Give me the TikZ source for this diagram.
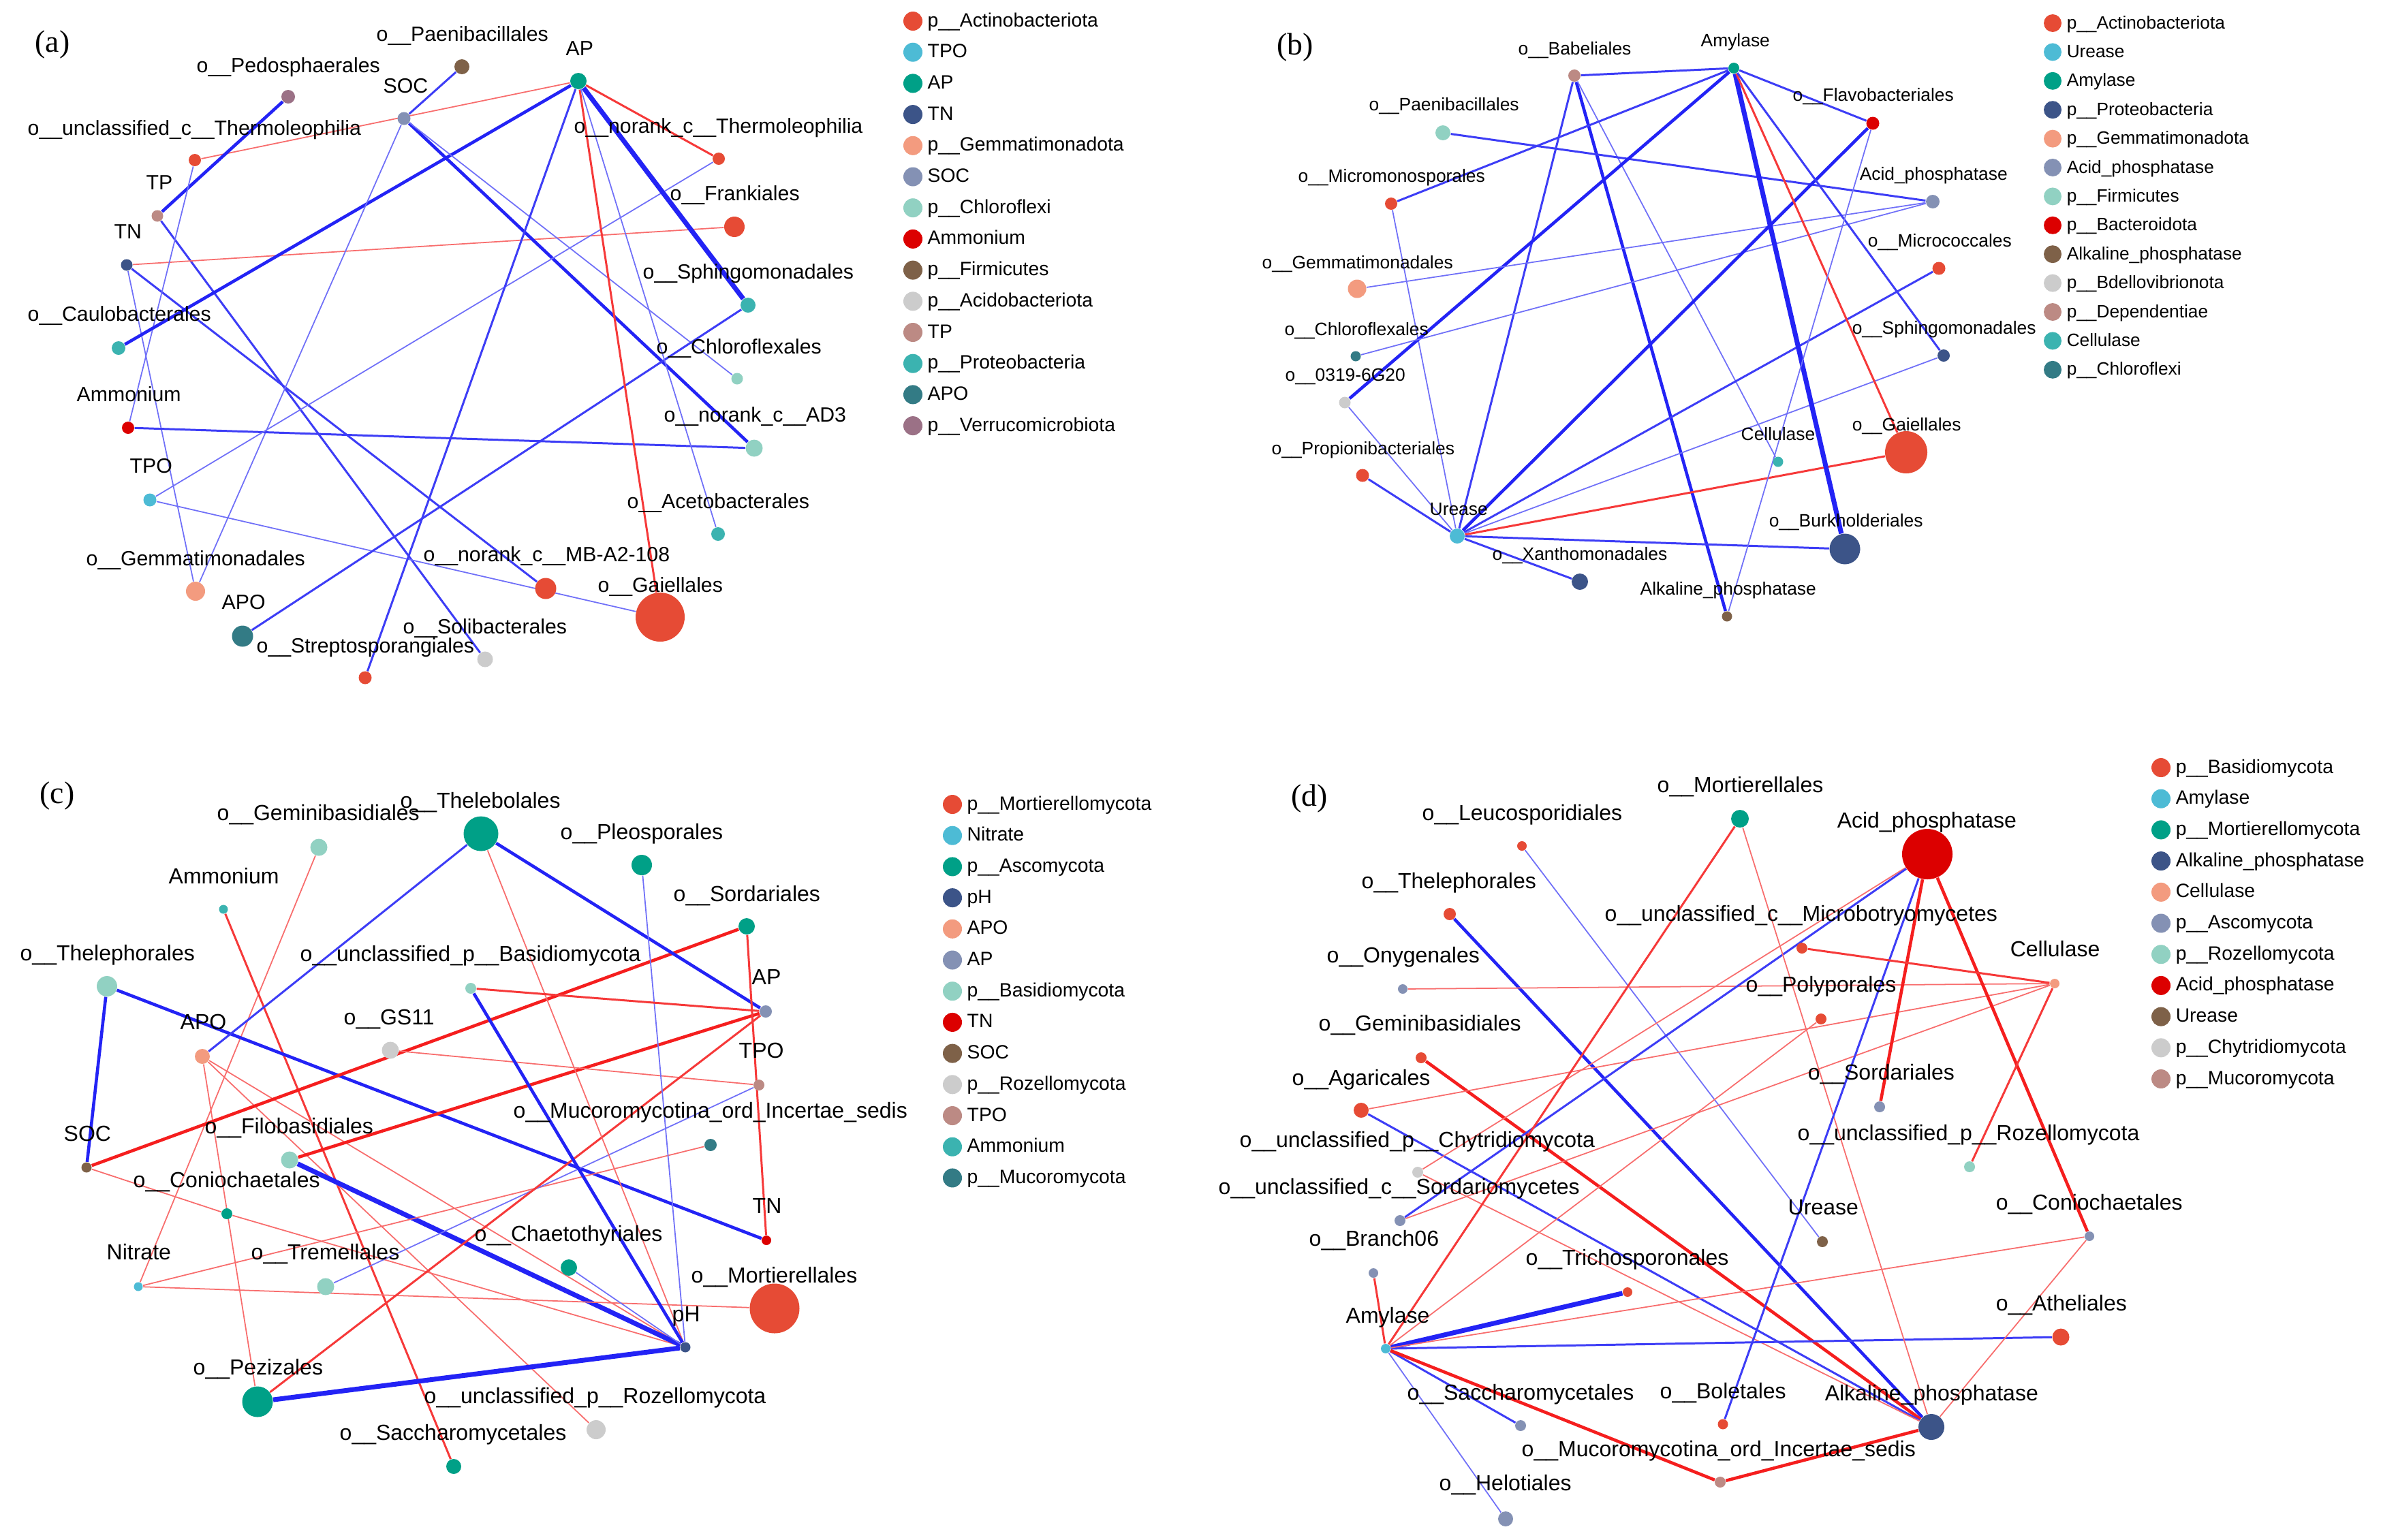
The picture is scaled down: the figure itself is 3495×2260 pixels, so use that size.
\documentclass[tikz,border=0pt]{standalone}
\usepackage{fontspec}
\setmainfont{Liberation Serif}
\newfontfamily\arialf{Liberation Sans}
\newcommand\fLa{\arialf\fontsize{8.6}{10}\selectfont}
\newcommand\fLb{\arialf\fontsize{7.5}{9}\selectfont}
\newcommand\fLc{\arialf\fontsize{9.1}{11}\selectfont}
\newcommand\fGa{\arialf\fontsize{8.05}{9.5}\selectfont}
\newcommand\fGb{\arialf\fontsize{7.47}{9}\selectfont}
\newcommand\fPan{\fontsize{13}{15}\selectfont}
\definecolor{cRed}{HTML}{E64B35}
\definecolor{cSky}{HTML}{4DBBD5}
\definecolor{cGreen}{HTML}{00A087}
\definecolor{cNavy}{HTML}{3C5488}
\definecolor{cSalmon}{HTML}{F39B7F}
\definecolor{cLav}{HTML}{8491B4}
\definecolor{cMint}{HTML}{91D1C2}
\definecolor{cCrim}{HTML}{DC0000}
\definecolor{cBrown}{HTML}{7E6148}
\definecolor{cGrey}{HTML}{CCCCCC}
\definecolor{cRose}{HTML}{BC8A84}
\definecolor{cTeal}{HTML}{3BB3B0}
\definecolor{cDTeal}{HTML}{337B85}
\definecolor{cMauve}{HTML}{9B7186}
\definecolor{eblue}{RGB}{35,35,245}
\definecolor{ered}{RGB}{245,30,30}
\pgfdeclarelayer{bg}
\pgfdeclarelayer{edges}
\pgfsetlayers{bg,edges,main}
\begin{document}
\begin{tikzpicture}[x=0.01cm,y=-0.01cm,
  nd/.style={circle,inner sep=0pt,draw=none,fill=#1},
  sz/.style={minimum size=#1*0.01cm},
  la/.style={anchor=mid west,inner sep=0pt,font=\fLa},
  lb/.style={anchor=mid west,inner sep=0pt,font=\fLb},
  lc/.style={anchor=mid west,inner sep=0pt,font=\fLc},
  pan/.style={inner sep=0pt,font=\fPan},
  eb1/.style={draw=eblue!65,line width=0.5pt},
  eb2/.style={draw=eblue!88,line width=0.85pt},
  eb3/.style={draw=eblue,line width=1.3pt},
  eb4/.style={draw=eblue,line width=2pt},
  er1/.style={draw=ered!65,line width=0.5pt},
  er2/.style={draw=ered!88,line width=0.85pt},
  er3/.style={draw=ered,line width=1.3pt},
  er4/.style={draw=ered,line width=2pt}]
\useasboundingbox (0,0) rectangle (3495,2260);
\begin{pgfonlayer}{bg}
\fill[white] (0,0) rectangle (3495,2260);
\end{pgfonlayer}

% ===================== panel (a) =====================
\node[pan] (pa) at (77,66) {(a)};
\node[nd=cBrown,sz=22] (a-pae) at (678,98) {};
\node[nd=cMauve,sz=20] (a-ped) at (423,142) {};
\node[nd=cLav,sz=19] (a-soc) at (593,174) {};
\node[nd=cGreen,sz=24] (a-ap) at (849,119) {};
\node[nd=cRed,sz=18] (a-uth) at (286,235) {};
\node[nd=cRed,sz=18] (a-nth) at (1055,233) {};
\node[nd=cRose,sz=17] (a-tp) at (231,317) {};
\node[nd=cNavy,sz=17] (a-tn) at (186,389) {};
\node[nd=cRed,sz=30] (a-fra) at (1078,333) {};
\node[nd=cTeal,sz=22] (a-sph) at (1098,448) {};
\node[nd=cTeal,sz=20] (a-cau) at (174,511) {};
\node[nd=cMint,sz=17] (a-chl) at (1082,556) {};
\node[nd=cCrim,sz=18] (a-amm) at (188,628) {};
\node[nd=cMint,sz=25] (a-ad3) at (1107,658) {};
\node[nd=cSky,sz=19] (a-tpo) at (220,734) {};
\node[nd=cTeal,sz=20] (a-ace) at (1054,784) {};
\node[nd=cRed,sz=31] (a-mb) at (801,864) {};
\node[nd=cSalmon,sz=28] (a-gem) at (287,868) {};
\node[nd=cRed,sz=72] (a-gai) at (969,906) {};
\node[nd=cDTeal,sz=31] (a-apo) at (356,934) {};
\node[nd=cGrey,sz=23] (a-sol) at (712,968) {};
\node[nd=cRed,sz=19] (a-str) at (536,995) {};

\node[la] (a-pae-l) at (552,52) {o\_\_Paenibacillales};
\node[la] (a-ped-l) at (288,98) {o\_\_Pedosphaerales};
\node[la] (a-soc-l) at (562,128) {SOC};
\node[la] (a-ap-l) at (830,73) {AP};
\node[la] (a-uth-l) at (40,190) {o\_\_unclassified\_c\_\_Thermoleophilia};
\node[la] (a-nth-l) at (842,187) {o\_\_norank\_c\_\_Thermoleophilia};
\node[la] (a-tp-l) at (214,270) {TP};
\node[la] (a-fra-l) at (983,286) {o\_\_Frankiales};
\node[la] (a-tn-l) at (167,342) {TN};
\node[la] (a-sph-l) at (943,401) {o\_\_Sphingomonadales};
\node[la] (a-cau-l) at (40,463) {o\_\_Caulobacterales};
\node[la] (a-chl-l) at (963,511) {o\_\_Chloroflexales};
\node[la] (a-amm-l) at (112,581) {Ammonium};
\node[la] (a-ad3-l) at (974,611) {o\_\_norank\_c\_\_AD3};
\node[la] (a-tpo-l) at (190,686) {TPO};
\node[la] (a-ace-l) at (920,738) {o\_\_Acetobacterales};
\node[la] (a-mb-l) at (621,816) {o\_\_norank\_c\_\_MB-A2-108};
\node[la] (a-gem-l) at (126,822) {o\_\_Gemmatimonadales};
\node[la] (a-gai-l) at (877,861) {o\_\_Gaiellales};
\node[la] (a-apo-l) at (325,886) {APO};
\node[la] (a-sol-l) at (591,922) {o\_\_Solibacterales};
\node[la] (a-str-l) at (376,950) {o\_\_Streptosporangiales};

\begin{pgfonlayer}{edges}
\draw[eb2] (a-pae) -- (a-soc);
\draw[er1] (a-uth) -- (a-ap);
\draw[eb3] (a-ped) -- (a-tp);
\draw[eb2] (a-tp) -- (a-sol);
\draw[er1] (a-tn) -- (a-fra);
\draw[eb2] (a-tn) -- (a-mb);
\draw[eb1] (a-tn) -- (a-gem);
\draw[eb1] (a-uth) -- (a-amm);
\draw[eb3] (a-cau) -- (a-ap);
\draw[eb1] (a-soc) -- (a-gem);
\draw[eb3] (a-soc) -- (a-ad3);
\draw[eb1] (a-soc) -- (a-chl);
\draw[eb2] (a-amm) -- (a-ad3);
\draw[eb1] (a-tpo) -- (a-nth);
\draw[eb1] (a-tpo) -- (a-gai);
\draw[eb2] (a-apo) -- (a-sph);
\draw[eb2] (a-str) -- (a-ap);
\draw[er2] (a-ap) -- (a-nth);
\draw[eb4] (a-ap) -- (a-sph);
\draw[er2] (a-ap) -- (a-gai);
\draw[eb1] (a-ap) -- (a-ace);
\end{pgfonlayer}

\foreach \tx/\co [count=\i from 0] in {p\_\_Actinobacteriota/cRed,TPO/cSky,AP/cGreen,TN/cNavy,p\_\_Gemmatimonadota/cSalmon,SOC/cLav,p\_\_Chloroflexi/cMint,Ammonium/cCrim,p\_\_Firmicutes/cBrown,p\_\_Acidobacteriota/cGrey,TP/cRose,p\_\_Proteobacteria/cTeal,APO/cDTeal,p\_\_Verrucomicrobiota/cMauve}{
  \node[nd=\co,sz=28] (lga\i) at (1340,{31+45.7*\i}) {};
  \node[anchor=mid west,inner sep=0pt,font=\fGa] (lgat\i) at (1361,{31+45.7*\i}) {\tx};
}

% ===================== panel (b) =====================
\node[pan] (pb) at (1901,70) {(b)};
\node[nd=cRose,sz=18] (b-bab) at (2311,111) {};
\node[nd=cGreen,sz=16] (b-amy) at (2545,100) {};
\node[nd=cMint,sz=22] (b-pae) at (2118,195) {};
\node[nd=cCrim,sz=19] (b-fla) at (2749,181) {};
\node[nd=cRed,sz=18] (b-mic) at (2042,299) {};
\node[nd=cLav,sz=20] (b-acp) at (2837,296) {};
\node[nd=cRed,sz=19] (b-mcc) at (2846,394) {};
\node[nd=cSalmon,sz=27] (b-gem) at (1992,424) {};
\node[nd=cDTeal,sz=15] (b-chl) at (1990,523) {};
\node[nd=cNavy,sz=18] (b-sph) at (2853,522) {};
\node[nd=cGrey,sz=17] (b-031) at (1974,591) {};
\node[nd=cRed,sz=62] (b-gai) at (2798,664) {};
\node[nd=cTeal,sz=15] (b-cel) at (2610,678) {};
\node[nd=cRed,sz=19] (b-pro) at (2000,698) {};
\node[nd=cSky,sz=22] (b-ure) at (2139,787) {};
\node[nd=cNavy,sz=45] (b-bur) at (2708,806) {};
\node[nd=cNavy,sz=24] (b-xan) at (2319,854) {};
\node[nd=cBrown,sz=15] (b-alk) at (2535,905) {};

\node[lb] (b-bab-l) at (2228,72) {o\_\_Babeliales};
\node[lb] (b-amy-l) at (2496,60) {Amylase};
\node[lb] (b-pae-l) at (2009,154) {o\_\_Paenibacillales};
\node[lb] (b-fla-l) at (2631,140) {o\_\_Flavobacteriales};
\node[lb] (b-mic-l) at (1905,259) {o\_\_Micromonosporales};
\node[lb] (b-acp-l) at (2729,256) {Acid\_phosphatase};
\node[lb] (b-mcc-l) at (2741,354) {o\_\_Micrococcales};
\node[lb] (b-gem-l) at (1852,386) {o\_\_Gemmatimonadales};
\node[lb] (b-chl-l) at (1885,484) {o\_\_Chloroflexales};
\node[lb] (b-sph-l) at (2718,482) {o\_\_Sphingomonadales};
\node[lb] (b-031-l) at (1886,551) {o\_\_0319-6G20};
\node[lb] (b-gai-l) at (2718,624) {o\_\_Gaiellales};
\node[lb] (b-cel-l) at (2555,638) {Cellulase};
\node[lb] (b-pro-l) at (1866,659) {o\_\_Propionibacteriales};
\node[lb] (b-ure-l) at (2098,748) {Urease};
\node[lb] (b-bur-l) at (2596,765) {o\_\_Burkholderiales};
\node[lb] (b-xan-l) at (2190,814) {o\_\_Xanthomonadales};
\node[lb] (b-alk-l) at (2407,865) {Alkaline\_phosphatase};

\begin{pgfonlayer}{edges}
\draw[eb2] (b-bab) -- (b-amy);
\draw[eb2] (b-bab) -- (b-ure);
\draw[eb3] (b-bab) -- (b-alk);
\draw[eb1] (b-bab) -- (b-cel);
\draw[eb2] (b-pae) -- (b-acp);
\draw[eb2] (b-mic) -- (b-amy);
\draw[eb1] (b-mic) -- (b-ure);
\draw[eb3] (b-031) -- (b-amy);
\draw[eb1] (b-031) -- (b-ure);
\draw[eb1] (b-gem) -- (b-acp);
\draw[eb1] (b-chl) -- (b-acp);
\draw[eb2] (b-pro) -- (b-ure);
\draw[eb2] (b-ure) -- (b-xan);
\draw[eb3] (b-ure) -- (b-fla);
\draw[eb2] (b-ure) -- (b-mcc);
\draw[eb1] (b-ure) -- (b-sph);
\draw[er2] (b-ure) -- (b-gai);
\draw[eb2] (b-ure) -- (b-bur);
\draw[eb2] (b-amy) -- (b-fla);
\draw[eb4] (b-amy) -- (b-bur);
\draw[er2] (b-amy) -- (b-gai);
\draw[eb2] (b-amy) -- (b-sph);
\draw[eb1] (b-fla) -- (b-alk);
\end{pgfonlayer}

\foreach \tx/\co [count=\i from 0] in {p\_\_Actinobacteriota/cRed,Urease/cSky,Amylase/cGreen,p\_\_Proteobacteria/cNavy,p\_\_Gemmatimonadota/cSalmon,Acid\_phosphatase/cLav,p\_\_Firmicutes/cMint,p\_\_Bacteroidota/cCrim,Alkaline\_phosphatase/cBrown,p\_\_Bdellovibrionota/cGrey,p\_\_Dependentiae/cRose,Cellulase/cTeal,p\_\_Chloroflexi/cDTeal}{
  \node[nd=\co,sz=26] (lgb\i) at (3013,{34+42.4*\i}) {};
  \node[anchor=mid west,inner sep=0pt,font=\fGb] (lgbt\i) at (3033,{34+42.4*\i}) {\tx};
}

% ===================== panel (c) =====================
\node[pan] (pc) at (84,1168) {(c)};
\node[nd=cMint,sz=25] (c-gem) at (468,1244) {};
\node[nd=cGreen,sz=51] (c-the) at (706,1224) {};
\node[nd=cGreen,sz=30] (c-ple) at (942,1270) {};
\node[nd=cTeal,sz=13] (c-amm) at (328,1335) {};
\node[nd=cGreen,sz=24] (c-sor) at (1096,1360) {};
\node[nd=cMint,sz=30] (c-tph) at (157,1448) {};
\node[nd=cMint,sz=16] (c-ubas) at (691,1451) {};
\node[nd=cLav,sz=18] (c-ap) at (1124,1485) {};
\node[nd=cGrey,sz=25] (c-gs) at (573,1542) {};
\node[nd=cSalmon,sz=22] (c-apo) at (297,1551) {};
\node[nd=cRose,sz=16] (c-tpo) at (1114,1593) {};
\node[nd=cDTeal,sz=18] (c-muc) at (1043,1681) {};
\node[nd=cMint,sz=25] (c-fil) at (425,1703) {};
\node[nd=cBrown,sz=15] (c-soc) at (127,1714) {};
\node[nd=cGreen,sz=16] (c-con) at (333,1782) {};
\node[nd=cCrim,sz=14] (c-tn) at (1125,1821) {};
\node[nd=cGreen,sz=24] (c-cha) at (835,1861) {};
\node[nd=cSky,sz=13] (c-nit) at (203,1889) {};
\node[nd=cMint,sz=25] (c-tre) at (478,1889) {};
\node[nd=cRed,sz=73] (c-mor) at (1137,1921) {};
\node[nd=cNavy,sz=15] (c-ph) at (1006,1978) {};
\node[nd=cGreen,sz=45] (c-pez) at (378,2058) {};
\node[nd=cGrey,sz=28] (c-roz) at (875,2099) {};
\node[nd=cGreen,sz=22] (c-sac) at (666,2153) {};

\node[lc] (c-the-l) at (587,1178) {o\_\_Thelebolales};
\node[lc] (c-gem-l) at (318,1196) {o\_\_Geminibasidiales};
\node[lc] (c-ple-l) at (822,1224) {o\_\_Pleosporales};
\node[lc] (c-amm-l) at (247,1289) {Ammonium};
\node[lc] (c-sor-l) at (988,1315) {o\_\_Sordariales};
\node[lc] (c-tph-l) at (29,1402) {o\_\_Thelephorales};
\node[lc] (c-ubas-l) at (440,1403) {o\_\_unclassified\_p\_\_Basidiomycota};
\node[lc] (c-ap-l) at (1103,1437) {AP};
\node[lc] (c-gs-l) at (504,1496) {o\_\_GS11};
\node[lc] (c-apo-l) at (264,1503) {APO};
\node[lc] (c-tpo-l) at (1084,1545) {TPO};
\node[lc] (c-muc-l) at (753,1633) {o\_\_Mucoromycotina\_ord\_Incertae\_sedis};
\node[lc] (c-fil-l) at (300,1656) {o\_\_Filobasidiales};
\node[lc] (c-soc-l) at (93,1667) {SOC};
\node[lc] (c-con-l) at (195,1735) {o\_\_Coniochaetales};
\node[lc] (c-tn-l) at (1104,1773) {TN};
\node[lc] (c-cha-l) at (696,1814) {o\_\_Chaetothyriales};
\node[lc] (c-nit-l) at (156,1841) {Nitrate};
\node[lc] (c-tre-l) at (368,1841) {o\_\_Tremellales};
\node[lc] (c-mor-l) at (1014,1875) {o\_\_Mortierellales};
\node[lc] (c-ph-l) at (986,1932) {pH};
\node[lc] (c-pez-l) at (283,2010) {o\_\_Pezizales};
\node[lc] (c-roz-l) at (622,2052) {o\_\_unclassified\_p\_\_Rozellomycota};
\node[lc] (c-sac-l) at (498,2106) {o\_\_Saccharomycetales};

\begin{pgfonlayer}{edges}
\draw[er1] (c-gem) -- (c-nit);
\draw[er2] (c-amm) -- (c-sac);
\draw[eb3] (c-tph) -- (c-soc);
\draw[eb3] (c-tph) -- (c-tn);
\draw[eb2] (c-apo) -- (c-the);
\draw[er1] (c-apo) -- (c-pez);
\draw[er1] (c-apo) -- (c-ph);
\draw[er1] (c-apo) -- (c-roz);
\draw[er3] (c-soc) -- (c-sor);
\draw[er1] (c-soc) -- (c-con);
\draw[er1] (c-con) -- (c-ph);
\draw[er3] (c-fil) -- (c-ap);
\draw[eb4] (c-fil) -- (c-ph);
\draw[er1] (c-nit) -- (c-mor);
\draw[er1] (c-nit) -- (c-muc);
\draw[eb1] (c-tre) -- (c-tpo);
\draw[er1] (c-gs) -- (c-tpo);
\draw[eb4] (c-pez) -- (c-ph);
\draw[er2] (c-pez) -- (c-ap);
\draw[eb3] (c-the) -- (c-ap);
\draw[er1] (c-the) -- (c-ph);
\draw[eb1] (c-ple) -- (c-ph);
\draw[er2] (c-sor) -- (c-tn);
\draw[er2] (c-ubas) -- (c-ap);
\draw[eb3] (c-ubas) -- (c-ph);
\draw[eb1] (c-cha) -- (c-ph);
\end{pgfonlayer}

\foreach \tx/\co [count=\i from 0] in {p\_\_Mortierellomycota/cRed,Nitrate/cSky,p\_\_Ascomycota/cGreen,pH/cNavy,APO/cSalmon,AP/cLav,p\_\_Basidiomycota/cMint,TN/cCrim,SOC/cBrown,p\_\_Rozellomycota/cGrey,TPO/cRose,Ammonium/cTeal,p\_\_Mucoromycota/cDTeal}{
  \node[nd=\co,sz=28] (lgc\i) at (1398,{1181+45.7*\i}) {};
  \node[anchor=mid west,inner sep=0pt,font=\fGa] (lgct\i) at (1419,{1181+45.7*\i}) {\tx};
}

% ===================== panel (d) =====================
\node[pan] (pd) at (1922,1172) {(d)};
\node[nd=cRed,sz=14] (d-leu) at (2234,1242) {};
\node[nd=cGreen,sz=26] (d-mor) at (2554,1202) {};
\node[nd=cCrim,sz=74] (d-acp) at (2829,1254) {};
\node[nd=cRed,sz=18] (d-tph) at (2128,1342) {};
\node[nd=cRed,sz=16] (d-mbt) at (2645,1392) {};
\node[nd=cSalmon,sz=14] (d-cel) at (3016,1444) {};
\node[nd=cLav,sz=14] (d-ony) at (2059,1452) {};
\node[nd=cRed,sz=16] (d-pol) at (2673,1496) {};
\node[nd=cRed,sz=16] (d-gmb) at (2086,1553) {};
\node[nd=cLav,sz=16] (d-sor) at (2759,1625) {};
\node[nd=cRed,sz=22] (d-aga) at (1998,1630) {};
\node[nd=cMint,sz=16] (d-roz) at (2891,1713) {};
\node[nd=cGrey,sz=16] (d-chy) at (2081,1721) {};
\node[nd=cLav,sz=16] (d-srm) at (2055,1792) {};
\node[nd=cLav,sz=14] (d-con) at (3067,1815) {};
\node[nd=cBrown,sz=16] (d-ure) at (2675,1823) {};
\node[nd=cLav,sz=14] (d-br6) at (2016,1869) {};
\node[nd=cRed,sz=14] (d-tri) at (2389,1897) {};
\node[nd=cRed,sz=25] (d-ath) at (3025,1963) {};
\node[nd=cSky,sz=14] (d-amy) at (2034,1980) {};
\node[nd=cRed,sz=15] (d-bol) at (2529,2091) {};
\node[nd=cLav,sz=16] (d-sac) at (2232,2093) {};
\node[nd=cNavy,sz=38] (d-alk) at (2835,2095) {};
\node[nd=cRose,sz=16] (d-muc) at (2525,2176) {};
\node[nd=cLav,sz=22] (d-hel) at (2210,2230) {};

\node[lc] (d-mor-l) at (2432,1155) {o\_\_Mortierellales};
\node[lc] (d-leu-l) at (2087,1196) {o\_\_Leucosporidiales};
\node[lc] (d-acp-l) at (2696,1207) {Acid\_phosphatase};
\node[lc] (d-tph-l) at (1998,1296) {o\_\_Thelephorales};
\node[lc] (d-mbt-l) at (2355,1344) {o\_\_unclassified\_c\_\_Microbotryomycetes};
\node[lc] (d-cel-l) at (2950,1396) {Cellulase};
\node[lc] (d-ony-l) at (1947,1405) {o\_\_Onygenales};
\node[lc] (d-pol-l) at (2562,1448) {o\_\_Polyporales};
\node[lc] (d-gmb-l) at (1935,1505) {o\_\_Geminibasidiales};
\node[lc] (d-sor-l) at (2653,1577) {o\_\_Sordariales};
\node[lc] (d-aga-l) at (1896,1585) {o\_\_Agaricales};
\node[lc] (d-roz-l) at (2638,1666) {o\_\_unclassified\_p\_\_Rozellomycota};
\node[lc] (d-chy-l) at (1819,1676) {o\_\_unclassified\_p\_\_Chytridiomycota};
\node[lc] (d-srm-l) at (1788,1745) {o\_\_unclassified\_c\_\_Sordariomycetes};
\node[lc] (d-con-l) at (2929,1768) {o\_\_Coniochaetales};
\node[lc] (d-ure-l) at (2624,1775) {Urease};
\node[lc] (d-br6-l) at (1921,1821) {o\_\_Branch06};
\node[lc] (d-tri-l) at (2239,1849) {o\_\_Trichosporonales};
\node[lc] (d-ath-l) at (2929,1916) {o\_\_Atheliales};
\node[lc] (d-amy-l) at (1975,1934) {Amylase};
\node[lc] (d-sac-l) at (2065,2047) {o\_\_Saccharomycetales};
\node[lc] (d-bol-l) at (2436,2045) {o\_\_Boletales};
\node[lc] (d-alk-l) at (2678,2048) {Alkaline\_phosphatase};
\node[lc] (d-muc-l) at (2233,2130) {o\_\_Mucoromycotina\_ord\_Incertae\_sedis};
\node[lc] (d-hel-l) at (2112,2180) {o\_\_Helotiales};

\begin{pgfonlayer}{edges}
\draw[eb1] (d-leu) -- (d-ure);
\draw[eb3] (d-tph) -- (d-alk);
\draw[er1] (d-ony) -- (d-cel);
\draw[er3] (d-gmb) -- (d-alk);
\draw[er1] (d-aga) -- (d-cel);
\draw[eb2] (d-aga) -- (d-alk);
\draw[er1] (d-chy) -- (d-acp);
\draw[er1] (d-chy) -- (d-alk);
\draw[eb2] (d-srm) -- (d-acp);
\draw[er1] (d-srm) -- (d-cel);
\draw[er2] (d-br6) -- (d-amy);
\draw[eb4] (d-tri) -- (d-amy);
\draw[er2] (d-amy) -- (d-mor);
\draw[eb2] (d-amy) -- (d-ath);
\draw[eb2] (d-amy) -- (d-sac);
\draw[eb1] (d-amy) -- (d-hel);
\draw[er3] (d-amy) -- (d-muc);
\draw[er1] (d-amy) -- (d-con);
\draw[er1] (d-amy) -- (d-pol);
\draw[er1] (d-mor) -- (d-alk);
\draw[er3] (d-acp) -- (d-sor);
\draw[er3] (d-acp) -- (d-con);
\draw[eb2] (d-acp) -- (d-bol);
\draw[er2] (d-mbt) -- (d-cel);
\draw[er2] (d-cel) -- (d-roz);
\draw[er1] (d-con) -- (d-alk);
\draw[er3] (d-alk) -- (d-muc);
\end{pgfonlayer}

\foreach \tx/\co [count=\i from 0] in {p\_\_Basidiomycota/cRed,Amylase/cSky,p\_\_Mortierellomycota/cGreen,Alkaline\_phosphatase/cNavy,Cellulase/cSalmon,p\_\_Ascomycota/cLav,p\_\_Rozellomycota/cMint,Acid\_phosphatase/cCrim,Urease/cBrown,p\_\_Chytridiomycota/cGrey,p\_\_Mucoromycota/cRose}{
  \node[nd=\co,sz=28] (lgd\i) at (3172,{1127+45.7*\i}) {};
  \node[anchor=mid west,inner sep=0pt,font=\fGa] (lgdt\i) at (3193,{1127+45.7*\i}) {\tx};
}
\end{tikzpicture}
\end{document}
